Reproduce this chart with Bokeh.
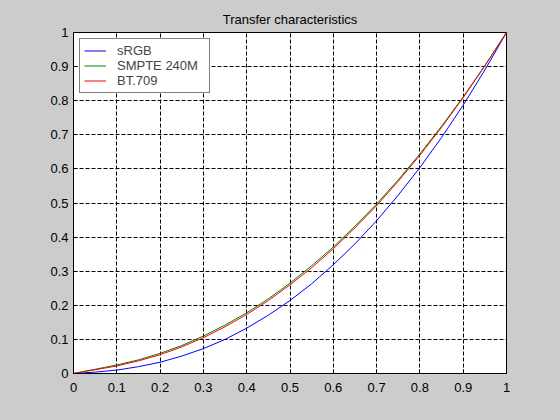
from bokeh.plotting import figure
from bokeh.models import Range1d, FixedTicker, Legend, LegendItem
from bokeh.embed import file_html
from bokeh.resources import INLINE

# Signal value (x) and linear light
x = [0.0, 0.05, 0.1, 0.15, 0.2, 0.25, 0.3, 0.35, 0.4, 0.45, 0.5,
     0.55, 0.6, 0.65, 0.7, 0.75, 0.8, 0.85, 0.9, 0.95, 1.0]
srgb = [0.0, 0.004, 0.010, 0.020, 0.033, 0.051, 0.073, 0.100, 0.133, 0.171, 0.214,
        0.263, 0.319, 0.380, 0.448, 0.523, 0.604, 0.692, 0.787, 0.890, 1.0]
smpte240m = [0.0, 0.0125, 0.025, 0.040, 0.059, 0.082, 0.110, 0.142, 0.178, 0.219, 0.265,
             0.316, 0.371, 0.432, 0.497, 0.568, 0.644, 0.725, 0.811, 0.903, 1.0]
bt709 = [0.0, 0.011, 0.022, 0.037, 0.055, 0.078, 0.105, 0.137, 0.173, 0.214, 0.260,
         0.310, 0.366, 0.427, 0.492, 0.564, 0.640, 0.722, 0.809, 0.902, 1.0]

ticks = [0.0, 0.1, 0.2, 0.3, 0.4, 0.5, 0.6, 0.7, 0.8, 0.9, 1.0]
tick_labels = ["0", "0.1", "0.2", "0.3", "0.4", "0.5", "0.6", "0.7", "0.8", "0.9", "1"]
series_names = ["sRGB", "SMPTE 240M", "BT.709"]
series_colors = ["#0000ff", "#008000", "#ff0000"]

FONT = "Liberation Sans"
BG = "#cccccc"

p = figure(width=560, height=420, output_backend="svg", toolbar_location=None,
           x_range=Range1d(0, 1), y_range=Range1d(0, 1),
           title="Transfer characteristics",
           min_border_left=73, min_border_right=54, min_border_top=32, min_border_bottom=47)
p.border_fill_color = BG
p.background_fill_color = "white"
p.outline_line_color = "black"
p.outline_line_width = 1

p.title.align = "center"
p.title.text_font = FONT
p.title.text_font_size = "13px"
p.title.text_font_style = "normal"
p.title.text_color = "black"
p.title.standoff = 12

for ax in (p.xaxis[0], p.yaxis[0]):
    ax.ticker = FixedTicker(ticks=ticks)
    ax.major_label_overrides = {t: l for t, l in zip(ticks, tick_labels)}
    ax.major_label_text_font = FONT
    ax.major_label_text_font_size = "13px"
    ax.major_label_text_color = "black"
    ax.axis_line_color = "black"
    ax.major_tick_line_color = "black"
    ax.major_tick_in = 4
    ax.major_tick_out = 0
    ax.minor_tick_line_color = None
p.xaxis.major_label_standoff = 9
p.yaxis.major_label_standoff = 5

for g in (p.xgrid[0], p.ygrid[0]):
    g.ticker = FixedTicker(ticks=ticks)
    g.grid_line_color = "black"
    g.grid_line_dash = "4 2"
    g.grid_line_width = 1

renderers = []
for ys, c in zip([srgb, smpte240m, bt709], series_colors):
    r = p.line(x, ys, line_color=c, line_width=1)
    renderers.append(r)

legend = Legend(items=[LegendItem(label=n, renderers=[r]) for n, r in zip(series_names, renderers)],
                location="top_left")
legend.margin = 6
legend.padding = 4
legend.spacing = 0
legend.label_height = 15
legend.glyph_height = 15
legend.glyph_width = 22
legend.label_standoff = 11
legend.label_width = 88
legend.label_text_font = FONT
legend.label_text_font_size = "13px"
legend.border_line_color = "black"
legend.border_line_width = 1
legend.background_fill_color = "white"
legend.background_fill_alpha = 1
p.add_layout(legend, "center")

html = file_html(p, INLINE)
html = html.replace("</head>", "<style>html, body { background: #cccccc; }</style></head>", 1)
open("out.html", "w").write(html)
